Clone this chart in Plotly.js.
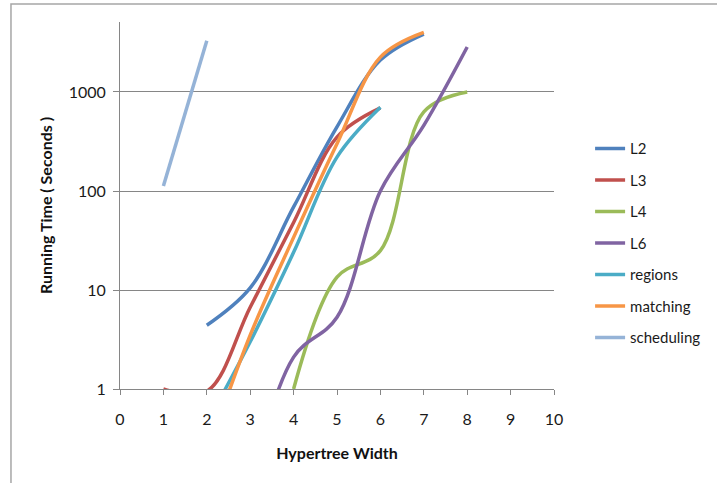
<!DOCTYPE html>
<html>
<head>
<meta charset="utf-8">
<script src="https://cdn.plot.ly/plotly-3.0.1.min.js"></script>
<style>
  html, body { margin: 0; padding: 0; background: #ffffff; }
  #chart { width: 717px; height: 483px; }
</style>
</head>
<body>
<div id="chart"></div>
<script>
// ---- data ----
const seriesNames = ["L2", "L3", "L4", "L6", "regions", "matching", "scheduling"];

const xL2 = [2, 3, 4, 5, 6, 7];
const yL2 = [4.4, 10.5, 69, 445, 2100, 3850];

const xL3 = [1, 2, 3, 4, 5, 6];
const yL3 = [1, 0.95, 6.7, 48, 350, 690];

const xL4 = [4, 5, 6, 7, 8];
const yL4 = [1, 13.5, 25, 630, 1000];

const xL6 = [3, 4, 5, 6, 7, 8];
const yL6 = [0.1, 2.1, 5.3, 100, 460, 2850];

const xRegions = [2, 3, 4, 5, 6];
const yRegions = [0.45, 3.0, 24, 220, 700];

const xMatching = [2, 3, 4, 5, 6, 7];
const yMatching = [0.22, 3.5, 34, 300, 2250, 4000];

const xScheduling = [1, 2];
const yScheduling = [112, 3300];

const xTickVals = [0, 1, 2, 3, 4, 5, 6, 7, 8, 9, 10];
const yTickVals = [1, 10, 100, 1000];
const yTickText = ["1", "10", "100", "1000"];

const colors = ["#4F81BD", "#C0504D", "#9BBB59", "#8064A2", "#4BACC6", "#F79646", "#95B3D7"];

const xs = [xL2, xL3, xL4, xL6, xRegions, xMatching, xScheduling];
const ys = [yL2, yL3, yL4, yL6, yRegions, yMatching, yScheduling];

const traces = seriesNames.map((name, i) => ({
  type: "scatter",
  mode: "lines",
  name: name,
  legendgroup: name,
  x: xs[i],
  y: ys[i],
  line: { color: colors[i], width: 3.5, shape: "spline", smoothing: 1 },
  hoverinfo: "x+y+name"
}));

const fontFamily = "Lato, 'Open Sans', 'DejaVu Sans', sans-serif";

const layout = {
  width: 717,
  height: 483,
  margin: { l: 120, r: 163, t: 22, b: 94, pad: 0, autoexpand: false },
  paper_bgcolor: "#ffffff",
  plot_bgcolor: "#ffffff",
  font: { family: fontFamily, size: 16, color: "#1a1a1a" },
  showlegend: true,
  legend: {
    xref: "container", yref: "container",
    x: 0.823, xanchor: "left",
    y: 0.726, yanchor: "top",
    font: { family: fontFamily, size: 15, color: "#1a1a1a" },
    tracegroupgap: 9,
    bgcolor: "rgba(0,0,0,0)",
    borderwidth: 0
  },
  xaxis: {
    range: [0, 10],
    tickvals: xTickVals,
    ticks: "outside",
    ticklen: 5,
    tickcolor: "#868686",
    showgrid: false,
    zeroline: false,
    showline: true,
    linecolor: "#868686",
    linewidth: 1,
    ticklabelstandoff: 11,
    tickfont: { family: fontFamily, size: 16, color: "#1a1a1a" },
    title: {
      text: "Hypertree Width",
      font: { family: fontFamily, size: 16, color: "#111111", weight: "bold" },
      standoff: 20
    },
    fixedrange: true
  },
  yaxis: {
    type: "log",
    range: [0, 3.707],
    tickvals: yTickVals,
    ticktext: yTickText,
    ticks: "outside",
    ticklen: 6,
    tickcolor: "#868686",
    showgrid: true,
    gridcolor: "#868686",
    gridwidth: 1,
    zeroline: false,
    showline: true,
    linecolor: "#868686",
    linewidth: 1,
    ticklabelstandoff: 4,
    tickfont: { family: fontFamily, size: 16, color: "#1a1a1a" },
    title: {
      text: "Running Time ( Seconds )",
      font: { family: fontFamily, size: 16, color: "#111111", weight: "bold" },
      standoff: 12
    },
    fixedrange: true
  },
  shapes: [
    {
      type: "rect",
      xref: "paper", yref: "paper",
      x0: -0.2512, x1: 1.6,
      y0: -0.5, y1: 1.049,
      line: { color: "#a6a6a6", width: 1.5 },
      fillcolor: "rgba(0,0,0,0)",
      layer: "below"
    }
  ]
};

Plotly.newPlot("chart", traces, layout, { displayModeBar: false, staticPlot: true });
</script>
</body>
</html>
